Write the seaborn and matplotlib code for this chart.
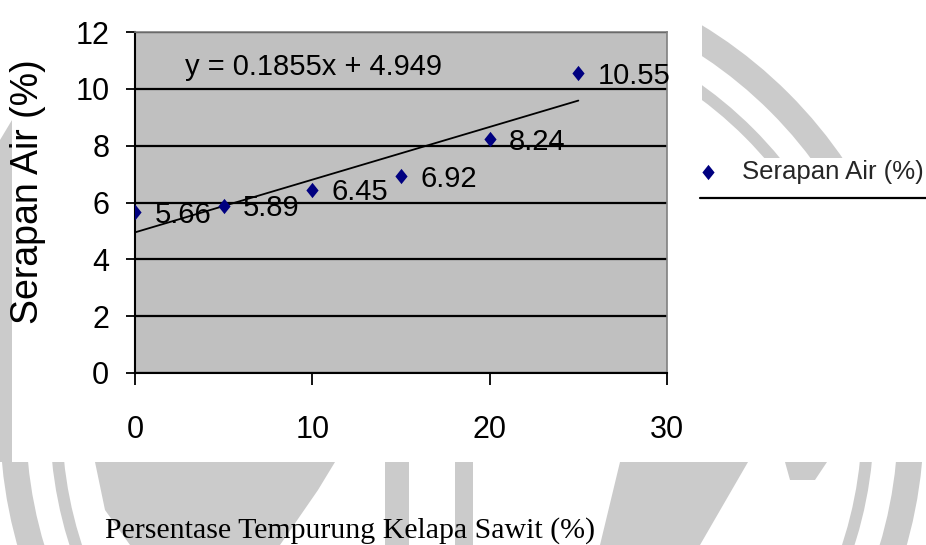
import matplotlib
matplotlib.use("Agg")
import matplotlib.pyplot as plt
from matplotlib.patches import Wedge, Rectangle, Polygon
import pandas as pd
import seaborn as sns

# Data
shell_pct = [0, 5, 10, 15, 20, 25]
water_abs = [5.66, 5.89, 6.45, 6.92, 8.24, 10.55]
point_labels = ["5.66", "5.89", "6.45", "6.92", "8.24", "10.55"]
trend_slope = 0.1855
trend_intercept = 4.949
trend_label = "y = 0.1855x + 4.949"
series_name = "Serapan Air (%)"
x_title = "Persentase Tempurung Kelapa Sawit (%)"
y_title = "Serapan Air (%)"
x_ticks = [0, 10, 20, 30]
y_ticks = [0, 2, 4, 6, 8, 10, 12]

sns.set_theme(style="white")
plt.rcParams["font.family"] = ["Liberation Sans", "DejaVu Sans"]
SANS = ["Liberation Sans", "DejaVu Sans"]

W, H = 926, 545
fig = plt.figure(figsize=(W / 100, H / 100), dpi=100)
fig.patch.set_facecolor("white")

# Page backdrop in pixel units (y downward)
bg = fig.add_axes([0, 0, 1, 1], zorder=-5)
bg.set_xlim(0, W)
bg.set_ylim(H, 0)
bg.axis("off")
wm = "#cbcbcb"
bg.add_patch(Wedge((462, 420), 462, 0, 360, width=26, color=wm, lw=0))
bg.add_patch(Wedge((462, 420), 412, 0, 360, width=12, color=wm, lw=0))
bg.add_patch(Polygon([(95, 462), (335, 462), (318, 490), (280, 545), (130, 545), (105, 510)],
                     closed=True, color=wm, lw=0))
bg.add_patch(Rectangle((385, 462), 24, 83, color=wm, lw=0))
bg.add_patch(Rectangle((455, 462), 18, 83, color=wm, lw=0))
bg.add_patch(Polygon([(620, 462), (748, 462), (700, 545), (600, 545)], closed=True, color=wm, lw=0))
bg.add_patch(Polygon([(785, 462), (827, 462), (815, 480), (790, 480)], closed=True, color=wm, lw=0))
bg.add_patch(Polygon([(0, 140), (12, 120), (12, 462), (0, 462)], closed=True, color=wm, lw=0))
# white chart canvas
bg.add_patch(Rectangle((12, 0), 690, 462, color="white", lw=0))
bg.add_patch(Rectangle((0, 0), 12, 110, color="white", lw=0))
bg.add_patch(Rectangle((702, 158), 224, 304, color="white", lw=0))
# trendline legend sample
bg.plot([700, 926], [198, 198], color="black", lw=1.6)

# Plot area
ax = fig.add_axes([135 / W, 1 - 373 / H, 532 / W, 341 / H])
ax.set_facecolor("#c0c0c0")

df = pd.DataFrame({"x": shell_pct, "y": water_abs})
trend_x = [shell_pct[0], shell_pct[-1]]
trend_y = [trend_slope * v + trend_intercept for v in trend_x]
sns.lineplot(x=trend_x, y=trend_y, color="black", lw=1.3, ax=ax, zorder=3)

diamond = [(0, 1), (0.8, 0), (0, -1), (-0.8, 0), (0, 1)]
sns.scatterplot(data=df, x="x", y="y", marker=diamond, s=121, color="#000080",
                edgecolor="#000080", linewidth=0, ax=ax, zorder=4, label=series_name)
handles, labels = ax.get_legend_handles_labels()
if ax.get_legend() is not None:
    ax.get_legend().remove()

for xv, yv, lbl in zip(shell_pct, water_abs, point_labels):
    ax.annotate(lbl, (xv, yv), xytext=(14, -2), textcoords="offset points",
                ha="left", va="center", fontsize=21, family=SANS, color="black", zorder=5)

ax.text(2.82, 10.77, trend_label, ha="left", va="center", fontsize=21, family=SANS, color="black")

ax.set_xlim(0, 30)
ax.set_ylim(0, 12)
ax.set_xticks(x_ticks)
ax.set_yticks(y_ticks)
ax.set_xlabel("")
ax.set_ylabel("")
ax.set_axisbelow(True)
ax.yaxis.grid(True, color="black", lw=1.6)
ax.xaxis.grid(False)

for side in ["left", "bottom"]:
    ax.spines[side].set_color("black")
    ax.spines[side].set_linewidth(1.5)
for side in ["top", "right"]:
    ax.spines[side].set_color("#808080")
    ax.spines[side].set_linewidth(1.2)

ax.tick_params(axis="y", left=True, direction="out", length=6.5, width=1.3, color="black",
               pad=12, labelsize=22, labelcolor="black")
ax.tick_params(axis="x", bottom=True, direction="out", length=8.6, width=1.3, color="black",
               pad=22, labelsize=22, labelcolor="black")
for t in ax.get_xticklabels() + ax.get_yticklabels():
    t.set_fontfamily(SANS)

fig.text(28 / W, 1 - 192 / H, y_title, rotation=90, ha="center", va="center",
         fontsize=27, color="black")
fig.text(105 / W, 1 - 538 / H, x_title, ha="left", va="baseline", fontsize=21.5,
         family=["Liberation Serif", "DejaVu Serif"], color="black")

fig.legend(handles, labels, loc="center left", bbox_to_anchor=(698 / W, 1 - 172 / H),
           frameon=False, fontsize=18.5, handlelength=0.8, handletextpad=0.91,
           borderpad=0, borderaxespad=0)

fig.savefig("out.png", dpi=100, facecolor="white")
